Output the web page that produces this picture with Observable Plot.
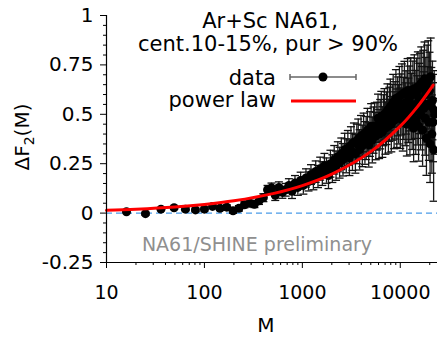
<!DOCTYPE html>
<html>
<head>
<meta charset="utf-8">
<script src="https://cdn.jsdelivr.net/npm/d3@7"></script>
<script src="https://cdn.jsdelivr.net/npm/@observablehq/plot@0.6"></script>
<style>
  html, body { margin: 0; padding: 0; background: #fff; }
  #chart { position: relative; width: 437px; height: 338px; }
</style>
</head>
<body>
<div id="chart"></div>
<script>
// ---- data ----
const M = [16,25,36,49,64,81,100,121,144,169,196,225,256,289,324,361,400,441,484,529,576,625,676,729,784,841,900,961,1024,1089,1156,1225,1296,1369,1444,1521,1600,1681,1764,1849,1936,2025,2116,2209,2304,2401,2500,2601,2704,2809,2916,3025,3136,3249,3364,3481,3600,3721,3844,3969,4096,4225,4356,4489,4624,4761,4900,5041,5184,5329,5476,5625,5776,5929,6084,6241,6400,6561,6724,6889,7056,7225,7396,7569,7744,7921,8100,8281,8464,8649,8836,9025,9216,9409,9604,9801,10000,10201,10404,10609,10816,11025,11236,11449,11664,11881,12100,12321,12544,12769,12996,13225,13456,13689,13924,14161,14400,14641,14884,15129,15376,15625,15876,16129,16384,16641,16900,17161,17424,17689,17956,18225,18496,18769,19044,19321,19600,19881,20164,20449,20736,21025,21316,21609,21904,22201,22500];
const dF2 = [
  0.007,-0.003,0.020,0.027,0.020,0.016,0.020,0.034,0.024,0.030,
  0.012,0.024,0.042,0.050,0.045,0.062,
  0.078,0.118,0.128,0.090,0.130,0.105,0.118,0.140,0.110,0.152,
  0.130,0.165,0.140,0.178,0.160,0.195,0.170,0.210,0.185,0.225,
  0.200,0.240,0.215,0.190,0.250,0.225,0.270,0.240,0.285,0.255,
  0.300,0.270,0.320,0.290,0.330,0.280,0.345,0.310,0.360,0.300,
  0.350,0.375,0.320,0.390,0.340,0.400,0.355,0.380,0.420,0.345,
  0.400,0.440,0.370,0.420,0.440,0.390,0.440,0.480,0.400,0.450,
  0.490,0.410,0.470,0.500,0.430,0.480,0.520,0.440,0.500,0.540,
  0.450,0.510,0.560,0.470,0.520,0.580,0.480,0.540,0.500,0.590,
  0.480,0.550,0.600,0.470,0.530,0.610,0.500,0.560,0.450,0.620,
  0.520,0.580,0.460,0.620,0.540,0.490,0.600,0.430,0.630,0.550,
  0.470,0.610,0.520,0.640,0.440,0.580,0.630,0.500,0.660,0.560,
  0.420,0.640,0.530,0.680,0.480,0.600,0.380,0.660,0.550,0.680,
  0.460,0.620,0.350,0.690,0.540,0.400,0.570,0.460,0.320,0.520,0.500
];
const dF2err = [
  0.006,0.007,0.007,0.008,0.008,0.009,0.010,0.010,0.011,0.012,
  0.013,0.014,0.015,0.016,0.017,0.018,
  0.020,0.022,0.024,0.026,0.028,0.030,0.032,0.034,0.036,0.038,
  0.040,0.042,0.044,0.046,0.048,0.050,0.052,0.054,0.056,0.058,
  0.060,0.062,0.064,0.066,0.068,0.070,0.072,0.074,0.076,0.078,
  0.080,0.082,0.084,0.086,0.088,0.090,0.092,0.094,0.096,0.098,
  0.100,0.101,0.102,0.104,0.105,0.106,0.108,0.109,0.110,0.112,
  0.113,0.114,0.116,0.117,0.118,0.120,0.121,0.122,0.124,0.125,
  0.126,0.128,0.129,0.130,0.132,0.133,0.134,0.136,0.137,0.138,
  0.140,0.141,0.142,0.144,0.145,0.146,0.148,0.149,0.150,0.152,
  0.153,0.154,0.155,0.156,0.157,0.158,0.159,0.160,0.161,0.162,
  0.163,0.164,0.165,0.166,0.167,0.168,0.169,0.170,0.171,0.172,
  0.173,0.174,0.175,0.176,0.177,0.178,0.179,0.180,0.181,0.182,
  0.183,0.184,0.185,0.186,0.187,0.188,0.189,0.190,0.191,0.192,
  0.193,0.194,0.195,0.196,0.197,0.198,0.199,0.200,0.260,0.201,0.202
];
// power-law fit curve
const fitM = [10,20,50,100,200,500,1000,2000,5000,10000,15000,21700];
const fitF2 = [0.0139,0.0197,0.0311,0.044,0.0622,0.0984,0.139,0.197,0.311,0.44,0.539,0.648];
// ticks
const xTicks = [10,100,1000,10000];
const xMinor = [20,30,40,50,60,70,80,90,200,300,400,500,600,700,800,900,2000,3000,4000,5000,6000,7000,8000,9000,20000];
const yTicks = [-0.25,0,0.25,0.5,0.75,1];
const yMinor = [-0.2,-0.15,-0.1,-0.05,0.05,0.1,0.15,0.2,0.3,0.35,0.4,0.45,0.55,0.6,0.65,0.7,0.8,0.85,0.9,0.95];
const titleLines = ["Ar+Sc NA61,", "cent.10-15%, pur > 90%"];
const legendLabels = ["data", "power law"];
const watermark = "NA61/SHINE preliminary";

const data = M.map((m, i) => ({M: m, v: dF2[i], e: dF2err[i]}));
const fit = fitM.map((m, i) => ({M: m, v: fitF2[i]}));

const FONT = "DejaVu Sans, sans-serif";
const cap = { draw(ctx) { ctx.moveTo(-4, 0); ctx.lineTo(4, 0); } };

const plot = Plot.plot({
  width: 437,
  height: 338,
  marginLeft: 106,
  marginRight: 0,
  marginTop: 15,
  marginBottom: 76,
  style: { fontFamily: FONT, color: "#000", background: "#fff", overflow: "visible" },
  x: { type: "log", domain: [10, 24000] },
  y: { domain: [-0.25, 1] },
  marks: [
    Plot.ruleY([0], { stroke: "#4a9be8", strokeWidth: 1.3, strokeDasharray: "6,4" }),
    Plot.ruleX(data, { x: "M", y1: d => d.v - d.e, y2: d => d.v + d.e, stroke: "#1a1a1a", strokeWidth: 1.3 }),
    Plot.dot(data, { x: "M", y: d => d.v + d.e, symbol: cap, fill: "none", stroke: "#111", strokeWidth: 1.3 }),
    Plot.dot(data, { x: "M", y: d => d.v - d.e, symbol: cap, fill: "none", stroke: "#111", strokeWidth: 1.3 }),
    Plot.dot(data, { x: "M", y: "v", r: 4.5, fill: "#000" }),
    Plot.line(fit, { x: "M", y: "v", stroke: "#ff0000", strokeWidth: 3, curve: "catmull-rom" }),
    Plot.ruleX([10], { stroke: "#000", strokeWidth: 1.2 }),
    Plot.ruleY([-0.25], { stroke: "#000", strokeWidth: 1.2 }),
    Plot.axisX({ ticks: xTicks, tickSize: 6, tickPadding: 17, tickFormat: d => String(d), fontSize: 19, label: null }),
    Plot.axisX({ ticks: xMinor, tickSize: 3, tickFormat: () => "", label: null }),
    Plot.axisY({ ticks: yTicks, tickSize: 6, tickPadding: 7, tickFormat: d => String(d), fontSize: 20, label: null }),
    Plot.axisY({ ticks: yMinor, tickSize: 3, tickFormat: () => "", label: null })
  ]
});
document.getElementById("chart").appendChild(plot);

const svg = d3.select(plot);
const txt = (x, y, s, opts = {}) => svg.append("text")
  .attr("x", x).attr("y", y)
  .attr("text-anchor", opts.anchor || "middle")
  .attr("font-family", FONT)
  .attr("font-size", opts.size || 21)
  .attr("fill", opts.fill || "#000")
  .text(s);

txt(270, 28, titleLines[0]);
txt(268, 51, titleLines[1]);
txt(276, 85, legendLabels[0], { anchor: "end" });
txt(276, 107, legendLabels[1], { anchor: "end" });
// legend samples
svg.append("line").attr("x1", 290).attr("x2", 356).attr("y1", 77).attr("y2", 77).attr("stroke", "#666").attr("stroke-width", 1.5);
svg.append("line").attr("x1", 290).attr("x2", 290).attr("y1", 74).attr("y2", 80).attr("stroke", "#666").attr("stroke-width", 1.5);
svg.append("line").attr("x1", 356).attr("x2", 356).attr("y1", 74).attr("y2", 80).attr("stroke", "#666").attr("stroke-width", 1.5);
svg.append("circle").attr("cx", 323).attr("cy", 77).attr("r", 4.5).attr("fill", "#000");
svg.append("line").attr("x1", 291).attr("x2", 356).attr("y1", 101).attr("y2", 101).attr("stroke", "#ff0000").attr("stroke-width", 3);

txt(257, 251, watermark, { size: 19, fill: "#8f8f8f" });
txt(266, 332, "M", { size: 20 });

// y axis label with subscript
const yl = svg.append("text")
  .attr("transform", "translate(29,137) rotate(-90)")
  .attr("text-anchor", "middle")
  .attr("font-family", FONT)
  .attr("font-size", 20)
  .attr("fill", "#000");
yl.append("tspan").text("ΔF");
yl.append("tspan").attr("font-size", 14).attr("dy", 5).text("2");
yl.append("tspan").attr("dy", -5).text("(M)");
</script>
</body>
</html>
